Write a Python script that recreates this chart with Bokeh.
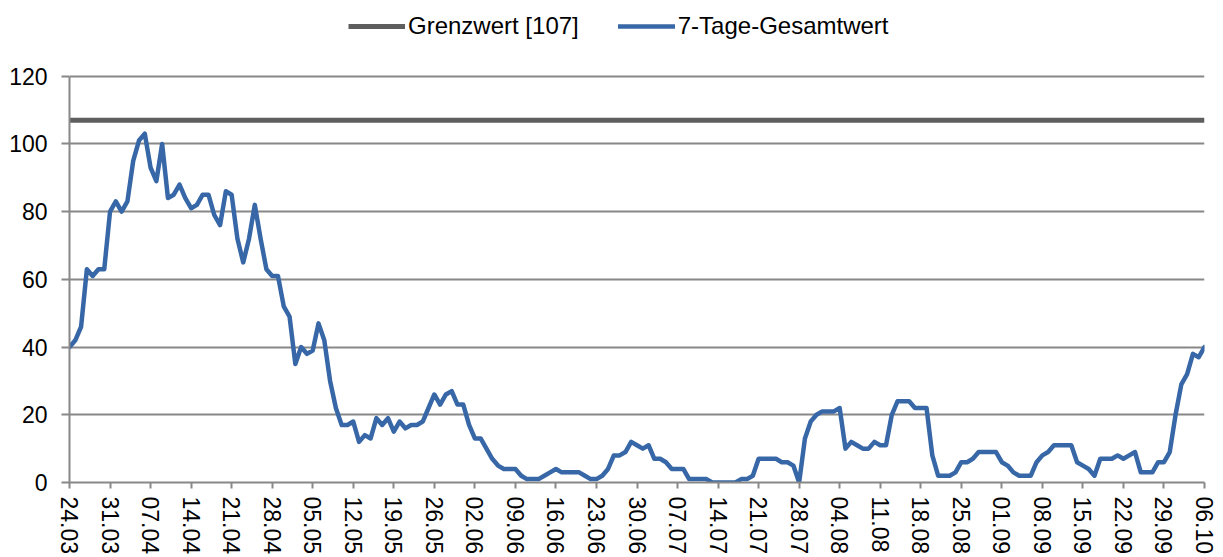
from bokeh.plotting import figure
from bokeh.models import FixedTicker, Legend, LegendItem, Range1d
from bokeh.embed import file_html
from bokeh.resources import INLINE

# Tick labels (one every 7 days, starting 24.03)
tick_labels = ["24.03", "31.03", "07.04", "14.04", "21.04", "28.04", "05.05",
               "12.05", "19.05", "26.05", "02.06", "09.06", "16.06", "23.06",
               "30.06", "07.07", "14.07", "21.07", "28.07", "04.08", "11.08",
               "18.08", "25.08", "01.09", "08.09", "15.09", "22.09", "29.09",
               "06.10"]

# Daily 7-day totals, 24.03 .. 06.10
werte = [
    40, 42, 46, 63, 61, 63, 63,
    80, 83, 80, 83, 95, 101, 103,
    93, 89, 100, 84, 85, 88, 84,
    81, 82, 85, 85, 79, 76, 86,
    85, 72, 65, 72, 82, 72, 63,
    61, 61, 52, 49, 35, 40, 38,
    39, 47, 42, 30, 22, 17, 17,
    18, 12, 14, 13, 19, 17, 19,
    15, 18, 16, 17, 17, 18, 22,
    26, 23, 26, 27, 23, 23, 17,
    13, 13, 10, 7, 5, 4, 4,
    4, 2, 1, 1, 1, 2, 3,
    4, 3, 3, 3, 3, 2, 1,
    1, 2, 4, 8, 8, 9, 12,
    11, 10, 11, 7, 7, 6, 4,
    4, 4, 1, 1, 1, 1, 0,
    0, 0, 0, 0, 1, 1, 2,
    7, 7, 7, 7, 6, 6, 5,
    0, 13, 18, 20, 21, 21, 21,
    22, 10, 12, 11, 10, 10, 12,
    11, 11, 20, 24, 24, 24, 22,
    22, 22, 8, 2, 2, 2, 3,
    6, 6, 7, 9, 9, 9, 9,
    6, 5, 3, 2, 2, 2, 6,
    8, 9, 11, 11, 11, 11, 6,
    5, 4, 2, 7, 7, 7, 8,
    7, 8, 9, 3, 3, 3, 6,
    6, 9, 20, 29, 32, 38, 37,
    40,
]

grenzwert = 107
y_ticks = [0, 20, 40, 60, 80, 100, 120]
y_max_axis = 120

tage = list(range(len(werte)))
tick_pos = [i * 7 for i in range(len(tick_labels))]

FONT = "Liberation Sans"
GRID = "#888888"

# frame reaches to the top of the canvas; the space above 120 holds the legend
p = figure(width=1223, height=557, output_backend="svg", toolbar_location=None,
           x_range=Range1d(0, len(werte) - 1), y_range=Range1d(0, 142.35),
           min_border_left=69, min_border_right=19, min_border_top=0,
           min_border_bottom=75)
p.outline_line_color = None
p.background_fill_color = "white"
p.border_fill_color = "white"

grenz = p.line(tage, [grenzwert] * len(tage), line_color="#5e5e5e", line_width=5)
kurve = p.line(tage, werte, line_color="#3767a6", line_width=4.5,
               line_join="round", line_cap="round")

p.xgrid.visible = False
p.ygrid.ticker = FixedTicker(ticks=y_ticks)
p.ygrid.grid_line_color = GRID
p.ygrid.grid_line_width = 2

# Y axis
p.yaxis.ticker = FixedTicker(ticks=y_ticks)
p.yaxis.bounds = (0, y_max_axis)
p.yaxis.axis_line_color = GRID
p.yaxis.axis_line_width = 2
p.yaxis.major_tick_line_color = GRID
p.yaxis.major_tick_line_width = 2
p.yaxis.major_tick_out = 8
p.yaxis.major_tick_in = 0
p.yaxis.minor_tick_line_color = None
p.yaxis.major_label_text_font = FONT
p.yaxis.major_label_text_font_size = "23px"
p.yaxis.major_label_text_color = "black"
p.yaxis.major_label_standoff = 14

# X axis
p.xaxis.ticker = FixedTicker(ticks=tick_pos)
p.xaxis.major_label_overrides = {pos: lbl for pos, lbl in zip(tick_pos, tick_labels)}
p.xaxis.axis_line_color = GRID
p.xaxis.axis_line_width = 2
p.xaxis.major_tick_line_color = GRID
p.xaxis.major_tick_line_width = 2
p.xaxis.major_tick_out = 6
p.xaxis.major_tick_in = 0
p.xaxis.minor_tick_line_color = None
p.xaxis.major_label_orientation = "vertical"
p.xaxis.major_label_text_font = FONT
p.xaxis.major_label_text_font_size = "23px"
p.xaxis.major_label_text_color = "black"
p.xaxis.major_label_standoff = 8

legend = Legend(items=[LegendItem(label="Grenzwert [107]", renderers=[grenz]),
                       LegendItem(label="7-Tage-Gesamtwert", renderers=[kurve])],
                orientation="horizontal", location=(279, 442),
                glyph_width=57, glyph_height=20, label_standoff=3, spacing=39,
                padding=0, margin=0, border_line_color=None,
                background_fill_alpha=0, label_text_font=FONT,
                label_text_font_size="24px", label_text_color="black")
p.add_layout(legend, "center")

open("out.html", "w").write(file_html(p, INLINE))
